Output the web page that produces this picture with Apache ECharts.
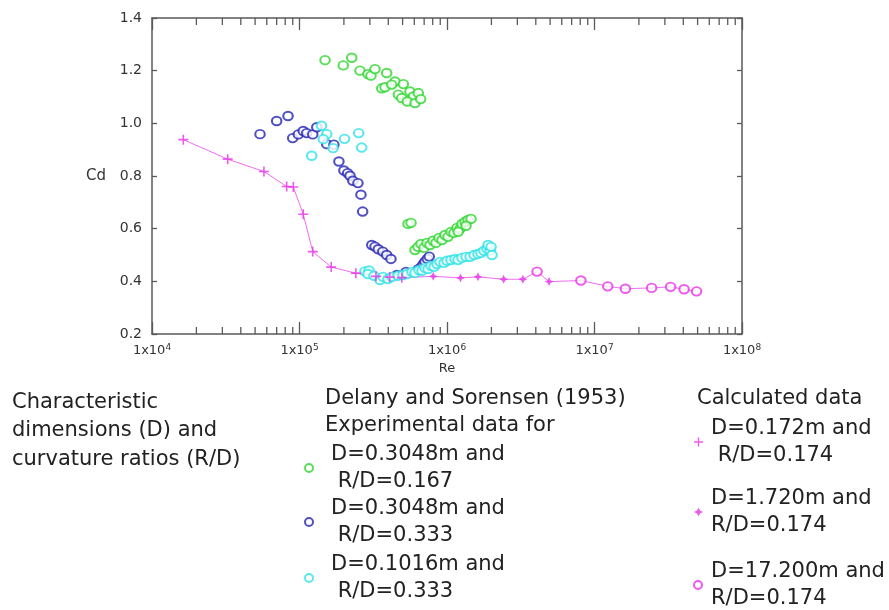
<!DOCTYPE html>
<html>
<head>
<meta charset="utf-8">
<script src="https://cdn.jsdelivr.net/npm/echarts@6/dist/echarts.min.js"></script>
<style>
  html, body { margin: 0; padding: 0; background: #fff; }
  #chart { width: 889px; height: 610px; }
</style>
</head>
<body>
<div id="chart"></div>
<script>
// Delany and Sorensen (1953), D=0.3048m, R/D=0.167
const greenRe = [1.49e5, 1.98e5, 2.26e5, 2.57e5, 2.91e5, 3.05e5, 3.25e5, 3.90e5, 3.61e5, 3.80e5,
  4.44e5, 4.22e5, 5.06e5, 4.68e5, 4.93e5, 5.61e5, 5.91e5, 5.38e5, 6.07e5, 6.39e5, 6.63e5,
  5.44e5, 5.70e5, 6.07e5, 6.36e5, 6.66e5, 6.98e5, 7.32e5, 7.67e5, 8.04e5, 8.42e5,
  8.83e5, 9.25e5, 9.69e5, 1.016e6, 1.065e6, 1.115e6, 1.169e6, 1.225e6, 1.264e6, 1.325e6,
  1.388e6, 1.455e6, 1.346e6, 1.19e6];
const greenCd = [1.240, 1.220, 1.249, 1.200, 1.187, 1.181, 1.206, 1.191, 1.133, 1.137,
  1.159, 1.147, 1.149, 1.109, 1.096, 1.121, 1.102, 1.083, 1.077, 1.115, 1.092,
  0.618, 0.622, 0.519, 0.531, 0.542, 0.527, 0.546, 0.538, 0.554, 0.546,
  0.565, 0.557, 0.576, 0.569, 0.588, 0.584, 0.603, 0.599, 0.618, 0.626,
  0.633, 0.637, 0.611, 0.588];

// Delany and Sorensen (1953), D=0.3048m, R/D=0.333
const blueRe = [5.40e4, 7.0e4, 8.36e4, 8.99e4, 9.82e4, 1.06e5, 1.12e5, 1.23e5, 1.31e5, 1.53e5,
  1.71e5, 1.85e5, 2.0e5, 2.12e5, 2.20e5, 2.30e5, 2.49e5, 2.61e5, 2.68e5,
  3.09e5, 3.25e5, 3.42e5, 3.67e5, 3.90e5, 4.17e5, 4.58e5, 5.27e5,
  6.39e5, 6.73e5, 6.90e5, 7.09e5, 7.35e5, 7.58e5];
const blueCd = [0.959, 1.009, 1.028, 0.944, 0.958, 0.971, 0.963, 0.958, 0.985, 0.921,
  0.919, 0.855, 0.821, 0.811, 0.801, 0.782, 0.773, 0.729, 0.665,
  0.538, 0.532, 0.522, 0.513, 0.500, 0.485, 0.424, 0.436,
  0.446, 0.456, 0.465, 0.475, 0.485, 0.494];

// Delany and Sorensen (1953), D=0.1016m, R/D=0.333
const cyanRe = [1.41e5, 1.53e5, 1.45e5, 1.69e5, 1.21e5, 2.02e5, 2.52e5, 2.64e5,
  2.78e5, 2.96e5, 2.91e5, 3.20e5, 3.51e5, 3.68e5, 3.98e5, 4.24e5, 4.66e5, 5.03e5,
  5.36e5, 5.79e5, 6.07e5, 6.46e5, 6.77e5, 7.10e5, 7.44e5, 7.79e5, 8.17e5, 8.56e5,
  8.97e5, 9.55e5, 1.0e6, 1.064e6, 1.133e6, 1.188e6, 1.264e6, 1.346e6, 1.433e6, 1.525e6,
  1.623e6, 1.70e6, 1.78e6, 1.87e6, 1.96e6, 1.90e6, 1.99e6, 2.02e6];
const cyanCd = [0.991, 0.959, 0.940, 0.906, 0.877, 0.941, 0.963, 0.908,
  0.438, 0.441, 0.428, 0.421, 0.405, 0.417, 0.409, 0.417, 0.421, 0.424,
  0.428, 0.436, 0.432, 0.443, 0.440, 0.451, 0.447, 0.459, 0.455, 0.466,
  0.474, 0.470, 0.478, 0.481, 0.485, 0.481, 0.489, 0.493, 0.493, 0.500,
  0.504, 0.508, 0.516, 0.523, 0.516, 0.538, 0.531, 0.500];

// Calculated data, R/D=0.174
const calcSmallRe = [1.63e4, 3.26e4, 5.74e4, 8.19e4, 9.08e4, 1.06e5, 1.23e5, 1.64e5, 2.41e5, 3.30e5, 4.09e5, 4.94e5];
const calcSmallCd = [0.938, 0.864, 0.817, 0.760, 0.758, 0.655, 0.513, 0.454, 0.431, 0.419, 0.416, 0.414];
const calcMidRe = [8.07e5, 1.234e6, 1.62e6, 2.42e6, 3.27e6, 4.92e6];
const calcMidCd = [0.419, 0.413, 0.417, 0.408, 0.408, 0.399];
const calcLargeRe = [4.08e6, 8.09e6, 1.23e7, 1.62e7, 2.44e7, 3.28e7, 4.05e7, 4.92e7];
const calcLargeCd = [0.437, 0.403, 0.381, 0.372, 0.375, 0.379, 0.370, 0.362];

// Axis ticks
const yTicks = [0.2, 0.4, 0.6, 0.8, 1.0, 1.2, 1.4];
const decades = [4, 5, 6, 7];
const minorTicks = [];
decades.forEach(d => { for (let k = 2; k <= 9; k++) minorTicks.push(k * Math.pow(10, d)); });

const zip = (xs, ys) => xs.map((x, i) => [x, ys[i]]);
const calcAll = zip(calcSmallRe, calcSmallCd)
  .concat(zip(calcMidRe, calcMidCd))
  .concat(zip(calcLargeRe, calcLargeCd))
  .sort((a, b) => a[0] - b[0]);

const NAME_G = 'D=0.3048m and\n R/D=0.167';
const NAME_B = 'D=0.3048m and\n R/D=0.333';
const NAME_C = 'D=0.1016m and\n R/D=0.333';
const NAME_S = 'D=0.172m and\n R/D=0.174';
const NAME_M = 'D=1.720m and\nR/D=0.174';
const NAME_L = 'D=17.200m and\nR/D=0.174';

const GREEN = '#2fd62f', BLUE = '#2424b4', CYAN = '#30e2e6', MAGENTA = '#e832e8';
const FONT = 'DejaVu Sans';
const FRAME = '#5a5a5a';
const TEXT_FONT = '21px "DejaVu Sans"';

const PLUS = 'path://M4.2,0H5.8V4.2H10V5.8H5.8V10H4.2V5.8H0V4.2H4.2Z';
const STAR = 'path://M5,0L6.6,3.4L10,5L6.6,6.6L5,10L3.4,6.6L0,5L3.4,3.4Z';

function ring(name, data, color) {
  return {
    name, type: 'scatter', data, symbol: 'emptyCircle', symbolSize: [9.5, 8.5],
    itemStyle: { color: color, borderColor: color, borderWidth: 1.5 },
    z: 3
  };
}

const legendText = { fontFamily: FONT, fontSize: 21, color: '#222', lineHeight: 27 };
function legendItem(name, left, top, padTop, padLeft, iconSize) {
  return {
    data: [name], orient: 'vertical', left, top, padding: 0,
    itemWidth: iconSize, itemHeight: iconSize, selectedMode: false,
    textStyle: Object.assign({}, legendText, { padding: [padTop, 0, 0, padLeft] })
  };
}

const chart = echarts.init(document.getElementById('chart'), null, { renderer: 'canvas' });
chart.setOption({
  animation: false,
  backgroundColor: '#fff',
  grid: { left: 152, right: 147, top: 18, bottom: 276 },
  xAxis: [
    {
      type: 'log', logBase: 10, min: 1e4, max: 1e8, position: 'bottom',
      name: 'Re', nameLocation: 'middle', nameGap: 25,
      nameTextStyle: { fontFamily: FONT, fontSize: 13, color: '#333' },
      axisLine: { lineStyle: { color: FRAME, width: 1.5 } },
      axisTick: { inside: true, length: 12, lineStyle: { color: FRAME, width: 1.3 } },
      splitLine: { show: false },
      axisLabel: {
        margin: 9, color: '#333',
        formatter: v => '1x10{sup|' + Math.round(Math.log10(v)) + '}',
        rich: {
          sup: { fontFamily: FONT, fontSize: 9, color: '#333', padding: [0, 0, 7, 0] }
        },
        fontFamily: FONT, fontSize: 13
      }
    },
    {
      type: 'log', logBase: 10, min: 1e4, max: 1e8, position: 'top',
      axisLine: { lineStyle: { color: FRAME, width: 1.5 } },
      axisTick: { inside: true, length: 12, lineStyle: { color: FRAME, width: 1.3 } },
      axisLabel: { show: false }, splitLine: { show: false }
    }
  ],
  yAxis: [
    {
      type: 'value', min: 0.2, max: 1.4, interval: 0.2, position: 'left',
      name: 'Cd', nameLocation: 'middle', nameRotate: 0, nameGap: 46,
      nameTextStyle: { fontFamily: FONT, fontSize: 15, color: '#333' },
      axisLine: { show: true, lineStyle: { color: FRAME, width: 1.5 } },
      axisTick: { show: true, inside: true, length: 5, lineStyle: { color: FRAME, width: 1.3 } },
      splitLine: { show: false },
      axisLabel: {
        margin: 10, color: '#333', fontFamily: FONT, fontSize: 14,
        formatter: v => v.toFixed(1)
      }
    },
    {
      type: 'value', min: 0.2, max: 1.4, interval: 0.2, position: 'right',
      axisLine: { show: true, lineStyle: { color: FRAME, width: 1.5 } },
      axisTick: { show: true, inside: true, length: 5, lineStyle: { color: FRAME, width: 1.3 } },
      axisLabel: { show: false }, splitLine: { show: false }
    }
  ],
  legend: [
    legendItem(NAME_G, 304, 433, 16, 13, 8),
    legendItem(NAME_B, 304, 487, 16, 13, 8),
    legendItem(NAME_C, 304, 543, 16, 13, 8),
    legendItem(NAME_S, 694, 415, 0, 3, 9),
    legendItem(NAME_M, 694, 485, 0, 3, 9),
    legendItem(NAME_L, 693, 558, 0, 4, 8)
  ],
  graphic: [
    {
      type: 'text', left: 12, top: 388,
      style: { text: 'Characteristic\ndimensions (D) and\ncurvature ratios (R/D)', font: TEXT_FONT, fill: '#222', lineHeight: 28.5 }
    },
    {
      type: 'text', left: 325, top: 385,
      style: { text: 'Delany and Sorensen (1953)\nExperimental data for', font: TEXT_FONT, fill: '#222', lineHeight: 27 }
    },
    {
      type: 'text', left: 697, top: 385,
      style: { text: 'Calculated data', font: TEXT_FONT, fill: '#222', lineHeight: 27 }
    }
  ],
  series: [
    {
      name: 'minor-ticks', type: 'custom', silent: true, z: 1,
      data: minorTicks.map(v => [v, 0.2]),
      renderItem: (params, api) => {
        const x = api.coord([api.value(0), 0.2])[0];
        const cs = params.coordSys;
        const st = { stroke: FRAME, lineWidth: 1.3 };
        return {
          type: 'group',
          children: [
            { type: 'line', shape: { x1: x, y1: cs.y + cs.height, x2: x, y2: cs.y + cs.height - 7 }, style: st },
            { type: 'line', shape: { x1: x, y1: cs.y, x2: x, y2: cs.y + 7 }, style: st }
          ]
        };
      }
    },
    {
      name: 'calc-line', type: 'line', data: calcAll, showSymbol: false, symbol: 'none',
      lineStyle: { color: '#f06cf0', width: 1 }, z: 2, silent: true
    },
    ring(NAME_G, zip(greenRe, greenCd), GREEN),
    ring(NAME_B, zip(blueRe, blueCd), BLUE),
    ring(NAME_C, zip(cyanRe, cyanCd), CYAN),
    {
      name: NAME_S, type: 'scatter', data: zip(calcSmallRe, calcSmallCd),
      symbol: PLUS, symbolSize: 10, itemStyle: { color: MAGENTA }, z: 4
    },
    {
      name: NAME_M, type: 'scatter', data: zip(calcMidRe, calcMidCd),
      symbol: STAR, symbolSize: 9, itemStyle: { color: MAGENTA }, z: 4
    },
    ring(NAME_L, zip(calcLargeRe, calcLargeCd), MAGENTA)
  ]
});
</script>
</body>
</html>
